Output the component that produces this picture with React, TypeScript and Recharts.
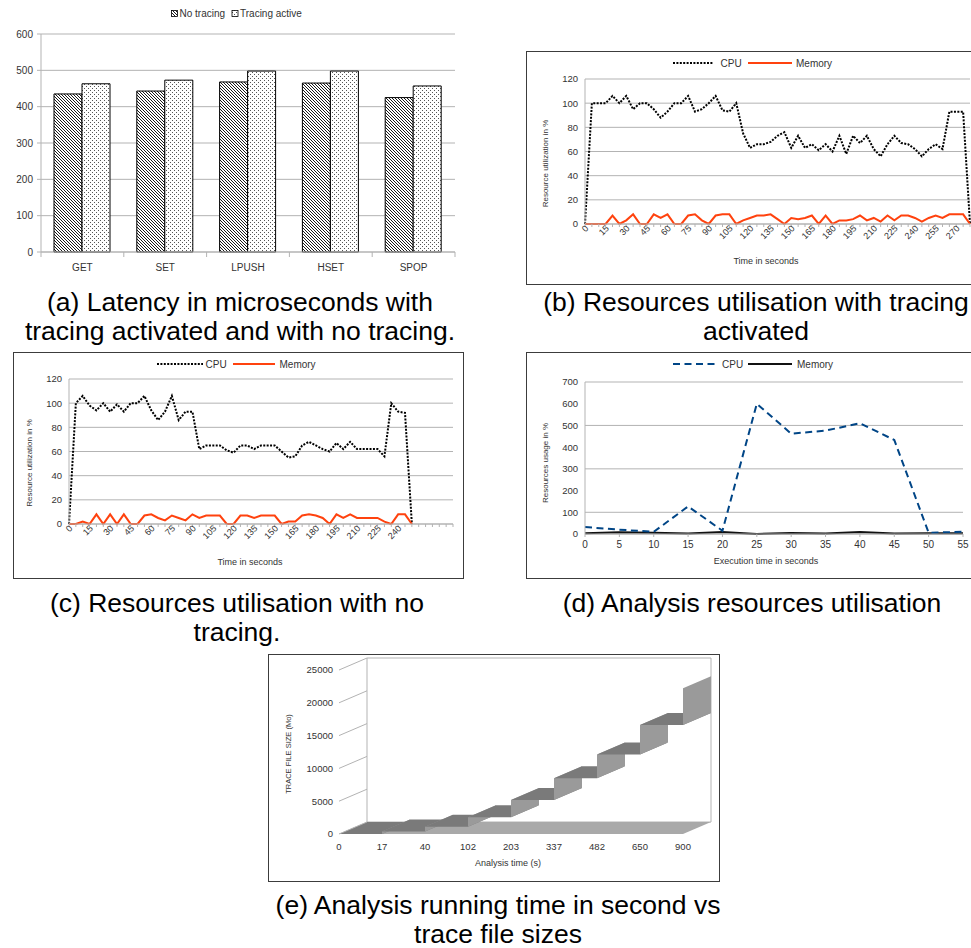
import React from 'react';
import { BarChart, Bar, LineChart, Line, XAxis, YAxis, CartesianGrid } from 'recharts';

// (a) latency per command
const latencyOps = ['GET', 'SET', 'LPUSH', 'HSET', 'SPOP'];
const latencyNoTracing = [435, 443, 468, 465, 425];
const latencyTracing = [463, 473, 498, 498, 457];
const latencyTicks = [0, 100, 200, 300, 400, 500, 600];

// (b) resources with tracing
const tracedTime = [
  0, 5, 10, 15, 20, 25, 30, 35, 40, 45, 50, 55, 60, 65, 70, 75, 80, 85, 90, 95,
  100, 105, 110, 115, 120, 125, 130, 135, 140, 145, 150, 155, 160, 165, 170, 175,
  180, 185, 190, 195, 200, 205, 210, 215, 220, 225, 230, 235, 240, 245, 250, 255,
  260, 265, 270, 275, 280,
];
const tracedCpu = [
  0, 100, 100, 100, 106, 100, 106, 95, 100, 100,
  95, 88, 93, 100, 100, 106, 93, 95, 100, 106,
  94, 93, 100, 75, 63, 66, 66, 68, 73, 76,
  63, 73, 63, 66, 61, 66, 60, 73, 58, 73,
  67, 73, 62, 56, 66, 73, 67, 66, 62, 56,
  62, 66, 62, 93, 93, 93, 0,
];
const tracedMem = [
  0, 0, 0, 0, 7, 0, 3, 8, 0, 0,
  8, 5, 8, 0, 0, 7, 8, 3, 0, 7,
  8, 8, 0, 3, 5, 7, 7, 8, 4, 0,
  5, 4, 5, 7, 0, 7, 0, 3, 3, 4,
  7, 3, 5, 2, 7, 3, 7, 7, 5, 2,
  5, 7, 5, 8, 8, 8, 0,
];
const tracedLabels = [0, 15, 30, 45, 60, 75, 90, 105, 120, 135, 150, 165, 180, 195, 210, 225, 240, 255, 270];

// (c) resources without tracing
const plainTime = [
  0, 5, 10, 15, 20, 25, 30, 35, 40, 45, 50, 55, 60, 65, 70, 75, 80, 85, 90, 95,
  100, 105, 110, 115, 120, 125, 130, 135, 140, 145, 150, 155, 160, 165, 170, 175,
  180, 185, 190, 195, 200, 205, 210, 215, 220, 225, 230, 235, 240, 245, 250, 255,
  260, 265, 270, 275, 280,
];
const plainCpu = [
  0, 100, 106, 98, 94, 100, 93, 99, 93, 100,
  100, 106, 94, 86, 93, 106, 86, 93, 93, 62,
  65, 65, 65, 61, 59, 65, 65, 62, 65, 65,
  65, 60, 55, 56, 65, 68, 65, 62, 60, 67,
  62, 68, 62, 62, 62, 62, 56, 100, 93, 92,
  0,
];
const plainMem = [
  0, 0, 2, 0, 8, 0, 8, 0, 8, 0,
  0, 7, 8, 5, 3, 7, 5, 3, 8, 5,
  7, 7, 7, 0, 0, 7, 7, 5, 7, 7,
  7, 0, 2, 2, 7, 8, 7, 5, 0, 8,
  5, 8, 5, 5, 5, 5, 2, 0, 8, 8,
  0,
];
const plainLabels = [0, 15, 30, 45, 60, 75, 90, 105, 120, 135, 150, 165, 180, 195, 210, 225, 240];
const utilTicks = [0, 20, 40, 60, 80, 100, 120];

// (d) analysis resources
const analysisTime = [0, 5, 10, 15, 20, 25, 30, 35, 40, 45, 50, 55];
const analysisCpu = [32, 20, 10, 127, 15, 600, 462, 476, 510, 433, 6, 10];
const analysisMem = [3, 8, 6, 2, 9, 0, 5, 2, 9, 2, 3, 3];
const analysisTicks = [0, 100, 200, 300, 400, 500, 600, 700];

// (e) trace file size vs analysis time
const traceTime = ['0', '17', '40', '102', '203', '337', '482', '650', '900'];
const traceSize = [0, 400, 1100, 2540, 5180, 8480, 12100, 16600, 22200];
const traceTicks = [0, 5000, 10000, 15000, 20000, 25000];

const FONT = '"Liberation Sans", Arial, Helvetica, sans-serif';
const INK = '#333333';
const GRID = '#b3b3b3';
const RED = '#ff420e';
const BLUE = '#004586';
const DOTS = '2 1.4';
const DASH = '7 4.5';
const DX = 28;
const DY = -12;

const latencyData = latencyOps.map((op, i) => ({ op, noTracing: latencyNoTracing[i], tracing: latencyTracing[i] }));
const tracedData = tracedTime.map((t, i) => ({ t, cpu: tracedCpu[i], mem: tracedMem[i] }));
const plainData = plainTime.map((t, i) => ({
  t,
  cpu: i < plainCpu.length ? plainCpu[i] : null,
  mem: i < plainMem.length ? plainMem[i] : null,
}));
const analysisData = analysisTime.map((t, i) => ({ t, cpu: analysisCpu[i], mem: analysisMem[i] }));
const traceData = traceTime.map((t, i) => ({ t, size: traceSize[i] }));

const tickText = { fontSize: 9.5, fill: INK, fontFamily: FONT };

const BAND_A = (470 - 41 - 15) / latencyOps.length;

const OpTick = ({ x, y, payload, index }: any) => (
  <g>
    <line x1={x - BAND_A / 2} y1={y} x2={x - BAND_A / 2} y2={y + 5} stroke={GRID} />
    {index === latencyOps.length - 1 && (
      <line x1={x + BAND_A / 2} y1={y} x2={x + BAND_A / 2} y2={y + 5} stroke={GRID} />
    )}
    <text x={x} y={y + 18.5} textAnchor="middle" fontSize={10} fill={INK} fontFamily={FONT}>
      {payload.value}
    </text>
  </g>
);

const SlantTick = ({ x, y, payload, labels }: any) => (
  <g transform={`translate(${x},${y})`}>
    <line x1={0} y1={0} x2={0} y2={3} stroke={GRID} />
    {labels.includes(payload.value) && (
      <text transform="translate(4,5) rotate(-45)" textAnchor="end" fontSize={9} fill={INK} fontFamily={FONT}>
        {payload.value}
      </text>
    )}
  </g>
);

const SizeTick = ({ x, y, payload }: any) => (
  <g>
    <line x1={x + 6} y1={y} x2={x + 6 + DX} y2={y + DY} stroke={GRID} />
    <text x={x} y={y} dy="0.35em" textAnchor="end" fontSize={9.5} fill={INK} fontFamily={FONT}>
      {payload.value}
    </text>
  </g>
);

const poly = (p: number[][]) => p.map(([a, b]) => `${a},${b}`).join(' ');

// stepped 3D ribbon: floor, riser and tread built from the line's own points
const Ribbon = (props: any) => {
  const { cx, cy, index, points } = props;
  const pts = points || [];
  const prev = pts[index - 1];
  const next = pts[index + 1];
  const last = pts[pts.length - 1];
  return (
    <g key={`ribbon-${index}`}>
      {index === 0 && last && (
        <polygon points={poly([[cx, cy], [last.x, cy], [last.x + DX, cy + DY], [cx + DX, cy + DY]])} fill="#a9a9a9" />
      )}
      {prev && (
        <polygon points={poly([[cx, prev.y], [cx, cy], [cx + DX, cy + DY], [cx + DX, prev.y + DY]])} fill="#9a9a9a" />
      )}
      {next && (
        <polygon points={poly([[cx, cy], [next.x, cy], [next.x + DX, cy + DY], [cx + DX, cy + DY]])} fill="#7a7a7a" />
      )}
    </g>
  );
};

const Caption = ({ cx, top, lines }: { cx: number; top: number; lines: string[] }) => (
  <div
    style={{
      position: 'absolute', left: cx - 300, top, width: 600, textAlign: 'center',
      fontSize: 26.5, lineHeight: '29px', color: '#000', fontFamily: FONT, whiteSpace: 'nowrap',
    }}
  >
    {lines.map((l, i) => <div key={i}>{l}</div>)}
  </div>
);

const Box = ({ left, top, width, height }: any) => (
  <div style={{ position: 'absolute', left, top, width, height, border: '1px solid #3c3c3c', boxSizing: 'border-box' }} />
);

const at = (left: number, top: number) => ({ position: 'absolute' as const, left, top });

const Overlay = () => (
  <svg width={971} height={948} style={{ position: 'absolute', left: 0, top: 0, pointerEvents: 'none' }} fontFamily={FONT}>
    <defs>
      <pattern id="hatchA" patternUnits="userSpaceOnUse" width={3} height={3}>
        <rect width={3} height={3} fill="#fff" />
        <path d="M-1,-1 L4,4 M-1,2 L1,4 M2,-1 L4,1" stroke="#1a1a1a" strokeWidth={1} />
      </pattern>
      <pattern id="dotsA" patternUnits="userSpaceOnUse" width={4} height={4}>
        <rect width={4} height={4} fill="#fff" />
        <rect x={0} y={0} width={1} height={1} fill="#555" />
        <rect x={2} y={2} width={1} height={1} fill="#555" />
      </pattern>
    </defs>

    {/* (a) legend */}
    <rect x={171.5} y={10.5} width={6} height={6} fill="url(#hatchA)" stroke="#000" strokeWidth={0.8} />
    <text x={179.5} y={17} fontSize={10} fill={INK}>No tracing</text>
    <rect x={232} y={10.5} width={6} height={6} fill="url(#dotsA)" stroke="#000" strokeWidth={0.8} />
    <text x={240} y={17} fontSize={10} fill={INK}>Tracing active</text>

    {/* (b) legend and titles */}
    <line x1={673} y1={63} x2={713} y2={63} stroke="#000" strokeWidth={2} strokeDasharray={DOTS} />
    <text x={720.5} y={66.5} fontSize={10} fill={INK}>CPU</text>
    <line x1={748} y1={63} x2={792} y2={63} stroke={RED} strokeWidth={2} />
    <text x={796} y={66.5} fontSize={10} fill={INK}>Memory</text>
    <text x={766} y={261} fontSize={9} fill={INK} textAnchor="middle" dominantBaseline="central">Time in seconds</text>
    <text x={545.5} y={163.5} fontSize={8} fill={INK} textAnchor="middle" dominantBaseline="central" transform="rotate(-90 545.5 163.5)">Resource utilization in %</text>

    {/* (c) legend and titles */}
    <line x1={157} y1={364} x2={203} y2={364} stroke="#000" strokeWidth={2} strokeDasharray={DOTS} />
    <text x={205.5} y={367.5} fontSize={10} fill={INK}>CPU</text>
    <line x1={233} y1={364} x2={275} y2={364} stroke={RED} strokeWidth={2} />
    <text x={279.5} y={367.5} fontSize={10} fill={INK}>Memory</text>
    <text x={250} y={561.5} fontSize={9} fill={INK} textAnchor="middle" dominantBaseline="central">Time in seconds</text>
    <text x={29.5} y={463} fontSize={8} fill={INK} textAnchor="middle" dominantBaseline="central" transform="rotate(-90 29.5 463)">Resource utilization in %</text>

    {/* (d) legend and titles */}
    <line x1={673} y1={364} x2={717} y2={364} stroke={BLUE} strokeWidth={2} strokeDasharray={DASH} />
    <text x={722} y={367.5} fontSize={10} fill={INK}>CPU</text>
    <line x1={748} y1={364} x2={792} y2={364} stroke="#111" strokeWidth={2} />
    <text x={797} y={367.5} fontSize={10} fill={INK}>Memory</text>
    <text x={766} y={561} fontSize={9} fill={INK} textAnchor="middle" dominantBaseline="central">Execution time in seconds</text>
    <text x={545} y={463} fontSize={8} fill={INK} textAnchor="middle" dominantBaseline="central" transform="rotate(-90 545 463)">Resources usage in %</text>

    {/* (e) titles */}
    <text x={508} y={863} fontSize={9} fill={INK} textAnchor="middle" dominantBaseline="central">Analysis time (s)</text>
    <text x={288} y={754} fontSize={7.5} fill={INK} textAnchor="middle" dominantBaseline="central" transform="rotate(-90 288 754)">TRACE FILE SIZE (Mo)</text>
  </svg>
);

const App = () => (
  <div style={{ position: 'absolute', left: 0, top: 0, width: 971, height: 948, overflow: 'hidden', background: '#fff', fontFamily: FONT }}>
    <Box left={526} top={51} width={450} height={234} />
    <Box left={13} top={352} width={451} height={227} />
    <Box left={526} top={352} width={450} height={227} />
    <Box left={268} top={654} width={452} height={228} />

    {/* (a) */}
    <div style={at(0, 0)}>
      <BarChart width={470} height={280} data={latencyData} margin={{ top: 34, right: 15, bottom: 0, left: 0 }} barGap={0} barSize={28}>
        <CartesianGrid vertical={false} stroke={GRID} />
        <XAxis dataKey="op" height={28} interval={0} tickSize={0} tickMargin={0} tickLine={false} axisLine={{ stroke: GRID }} tick={<OpTick />} />
        <YAxis width={41} domain={[0, 600]} ticks={latencyTicks} tickSize={4} tickMargin={4} axisLine={{ stroke: GRID }} tickLine={{ stroke: GRID }} tick={{ ...tickText, fontSize: 10 }} />
        <Bar dataKey="noTracing" fill="url(#hatchA)" stroke="#000" strokeWidth={1} isAnimationActive={false} />
        <Bar dataKey="tracing" fill="url(#dotsA)" stroke="#000" strokeWidth={1} isAnimationActive={false} />
      </BarChart>
    </div>

    {/* (b) */}
    <div style={at(526, 51)}>
      <LineChart width={445} height={223} data={tracedData} margin={{ top: 28, right: 1, bottom: 0, left: 0 }}>
        <CartesianGrid vertical={false} stroke={GRID} />
        <XAxis dataKey="t" height={50} interval={0} tickSize={0} tickMargin={0} tickLine={false} axisLine={{ stroke: GRID }} tick={<SlantTick labels={tracedLabels} />} />
        <YAxis width={59} domain={[0, 120]} ticks={utilTicks} tickSize={4} tickMargin={3} tickLine={false} axisLine={{ stroke: GRID }} tick={tickText} />
        <Line dataKey="cpu" stroke="#000" strokeWidth={2} strokeDasharray={DOTS} dot={false} isAnimationActive={false} />
        <Line dataKey="mem" stroke={RED} strokeWidth={2} dot={false} isAnimationActive={false} />
      </LineChart>
    </div>

    {/* (c) */}
    <div style={at(13, 352)}>
      <LineChart width={450} height={222} data={plainData} margin={{ top: 27, right: 10, bottom: 0, left: 0 }}>
        <CartesianGrid vertical={false} stroke={GRID} />
        <XAxis dataKey="t" height={50} interval={0} tickSize={0} tickMargin={0} tickLine={false} axisLine={{ stroke: GRID }} tick={<SlantTick labels={plainLabels} />} />
        <YAxis width={56} domain={[0, 120]} ticks={utilTicks} tickSize={4} tickMargin={3} tickLine={false} axisLine={{ stroke: GRID }} tick={tickText} />
        <Line dataKey="cpu" stroke="#000" strokeWidth={2} strokeDasharray={DOTS} dot={false} isAnimationActive={false} />
        <Line dataKey="mem" stroke={RED} strokeWidth={2} dot={false} isAnimationActive={false} />
      </LineChart>
    </div>

    {/* (d) */}
    <div style={at(526, 352)}>
      <LineChart width={445} height={222} data={analysisData} margin={{ top: 30, right: 8, bottom: 0, left: 0 }}>
        <CartesianGrid vertical={false} stroke={GRID} />
        <XAxis dataKey="t" height={40} interval={0} tickSize={3} tickMargin={4} tickLine={{ stroke: GRID }} axisLine={{ stroke: GRID }} tick={{ ...tickText, fontSize: 10 }} />
        <YAxis width={59} domain={[0, 700]} ticks={analysisTicks} tickSize={4} tickMargin={3} tickLine={false} axisLine={{ stroke: GRID }} tick={tickText} />
        <Line dataKey="mem" stroke="#111" strokeWidth={2} dot={false} isAnimationActive={false} />
        <Line dataKey="cpu" stroke={BLUE} strokeWidth={2} strokeDasharray={DASH} dot={false} isAnimationActive={false} />
      </LineChart>
    </div>

    {/* (e) back wall */}
    <div style={at(268 + DX, 655 + DY)}>
      <LineChart width={450} height={225} data={traceData} margin={{ top: 15, right: 0, bottom: 46, left: 0 }}>
        <CartesianGrid vertical={false} stroke={GRID} />
        <XAxis dataKey="t" hide />
        <YAxis width={71} domain={[0, 25000]} ticks={traceTicks} tick={false} tickLine={false} axisLine={{ stroke: GRID }} />
        <YAxis yAxisId="r" orientation="right" width={35} domain={[0, 25000]} ticks={traceTicks} tick={false} tickLine={false} axisLine={{ stroke: GRID }} />
        <Line dataKey="size" stroke="none" dot={false} isAnimationActive={false} />
        <Line dataKey="size" yAxisId="r" stroke="none" dot={false} isAnimationActive={false} />
      </LineChart>
    </div>

    {/* (e) front: axes and stepped ribbon */}
    <div style={at(268, 655)}>
      <LineChart width={450} height={225} data={traceData} margin={{ top: 15, right: 35, bottom: 0, left: 0 }}>
        <XAxis dataKey="t" height={46} interval={0} tickSize={4} tickMargin={5.5} tickLine={false} axisLine={false} tick={{ ...tickText, fontSize: 9.5 }} />
        <YAxis width={71} domain={[0, 25000]} ticks={traceTicks} tickSize={3} tickMargin={3} tickLine={false} axisLine={false} tick={<SizeTick />} />
        <Line dataKey="size" stroke="none" dot={Ribbon} activeDot={false} isAnimationActive={false} />
      </LineChart>
    </div>

    <Overlay />

    <Caption cx={240} top={288} lines={['(a) Latency in microseconds with', 'tracing activated and with no tracing.']} />
    <Caption cx={756} top={288} lines={['(b) Resources utilisation with tracing', 'activated']} />
    <Caption cx={237} top={589} lines={['(c) Resources utilisation with no', 'tracing.']} />
    <Caption cx={752} top={589} lines={['(d) Analysis resources utilisation']} />
    <Caption cx={498} top={891} lines={['(e) Analysis running time in second vs', 'trace file sizes']} />
  </div>
);

export default App;
